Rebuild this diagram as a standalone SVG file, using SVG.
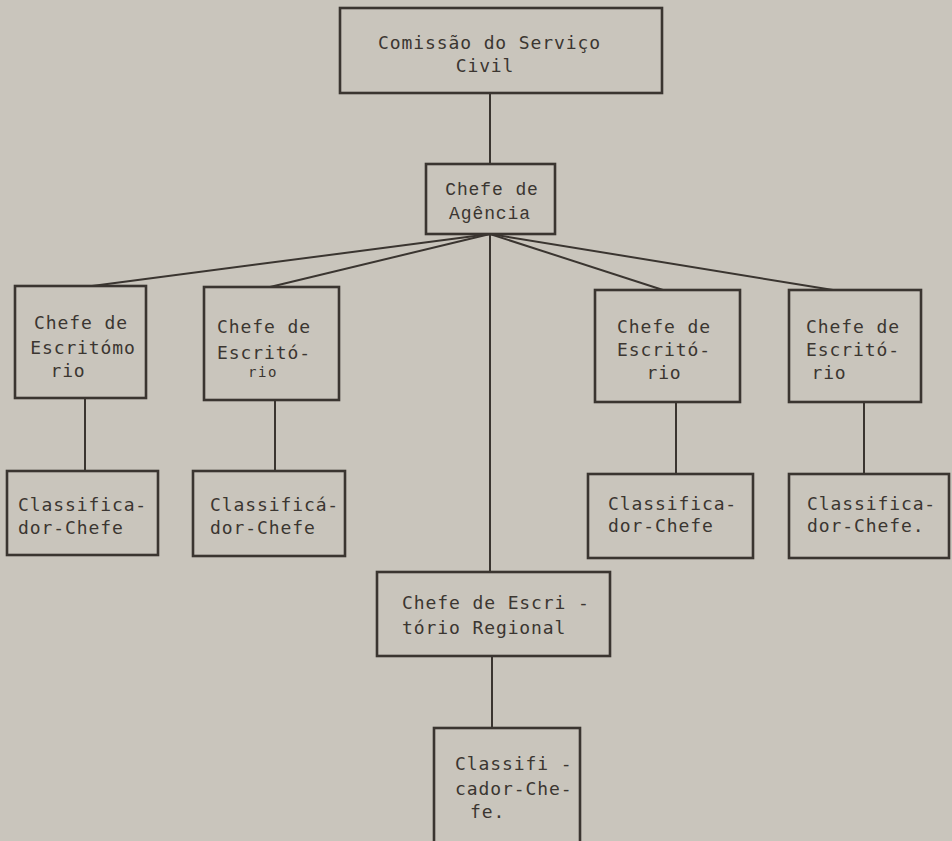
<svg xmlns="http://www.w3.org/2000/svg" width="952" height="841" viewBox="0 0 952 841">
<style>
.bx{fill:none;stroke:#3a3530;stroke-width:2.6}
.ln{fill:none;stroke:#3a3530;stroke-width:2}
.t{font-family:"DejaVu Sans Mono","Liberation Mono",monospace;font-size:18px;letter-spacing:0.9px;fill:#3b3631}
.c{text-anchor:middle}
.s{font-size:14px;letter-spacing:1.5px}
.a{font-family:"Liberation Mono","DejaVu Sans Mono",monospace;font-size:18px;letter-spacing:0.9px;fill:#3b3631;text-anchor:middle}
</style>
<rect x="0" y="0" width="952" height="841" fill="#c9c5bc"/>
<g id="connectors">
<line class="ln" x1="490" y1="93" x2="490" y2="164"/>
<line class="ln" x1="490" y1="234" x2="92" y2="286"/>
<line class="ln" x1="490" y1="234" x2="270" y2="287"/>
<line class="ln" x1="490" y1="234" x2="663" y2="290"/>
<line class="ln" x1="490" y1="234" x2="833" y2="290"/>
<line class="ln" x1="490" y1="234" x2="490" y2="572"/>
<line class="ln" x1="85" y1="398" x2="85" y2="471"/>
<line class="ln" x1="275" y1="400" x2="275" y2="471"/>
<line class="ln" x1="676" y1="402" x2="676" y2="474"/>
<line class="ln" x1="864" y1="402" x2="864" y2="474"/>
<line class="ln" x1="492" y1="656" x2="492" y2="728"/>
</g>
<g id="comissao">
<rect class="bx" x="340" y="8" width="322" height="85"/>
<text class="t" x="378" y="49">Comissão do Serviço</text>
<text class="t c" x="485" y="72">Civil</text>
</g>
<g id="agencia">
<rect class="bx" x="426" y="164" width="129" height="70"/>
<text class="a" x="492" y="195">Chefe de</text>
<text class="a" x="490" y="219">Agência</text>
</g>
<g id="escritorio1">
<rect class="bx" x="15" y="286" width="131" height="112"/>
<text class="t c" x="81" y="329">Chefe de</text>
<text class="t c" x="83" y="354">Escritómo</text>
<text class="t c" x="68" y="377">rio</text>
</g>
<g id="escritorio2">
<rect class="bx" x="204" y="287" width="135" height="113"/>
<text class="t c" x="264" y="333">Chefe de</text>
<text class="t c" x="264" y="359">Escritó-</text>
<text class="t c s" x="263" y="377">rio</text>
</g>
<g id="escritorio3">
<rect class="bx" x="595" y="290" width="145" height="112"/>
<text class="t c" x="664" y="333">Chefe de</text>
<text class="t c" x="664" y="356">Escritó-</text>
<text class="t c" x="664" y="379">rio</text>
</g>
<g id="escritorio4">
<rect class="bx" x="789" y="290" width="132" height="112"/>
<text class="t c" x="853" y="333">Chefe de</text>
<text class="t c" x="853" y="356">Escritó-</text>
<text class="t c" x="829" y="379">rio</text>
</g>
<g id="classificador1">
<rect class="bx" x="7" y="471" width="151" height="84"/>
<text class="t" x="18" y="511">Classifica-</text>
<text class="t" x="18" y="534">dor-Chefe</text>
</g>
<g id="classificador2">
<rect class="bx" x="193" y="471" width="152" height="85"/>
<text class="t" x="210" y="511">Classificá-</text>
<text class="t" x="210" y="534">dor-Chefe</text>
</g>
<g id="classificador3">
<rect class="bx" x="588" y="474" width="165" height="84"/>
<text class="t" x="608" y="510">Classifica-</text>
<text class="t" x="608" y="532">dor-Chefe</text>
</g>
<g id="classificador4">
<rect class="bx" x="789" y="474" width="160" height="84"/>
<text class="t" x="807" y="510">Classifica-</text>
<text class="t" x="807" y="532">dor-Chefe.</text>
</g>
<g id="regional">
<rect class="bx" x="377" y="572" width="233" height="84"/>
<text class="t" x="402" y="609">Chefe de Escri -</text>
<text class="t" x="402" y="634">tório Regional</text>
</g>
<g id="classificador5">
<rect class="bx" x="434" y="728" width="146" height="120"/>
<text class="t" x="455" y="770">Classifi -</text>
<text class="t" x="455" y="795">cador-Che-</text>
<text class="t" x="470" y="818">fe.</text>
</g>
</svg>
